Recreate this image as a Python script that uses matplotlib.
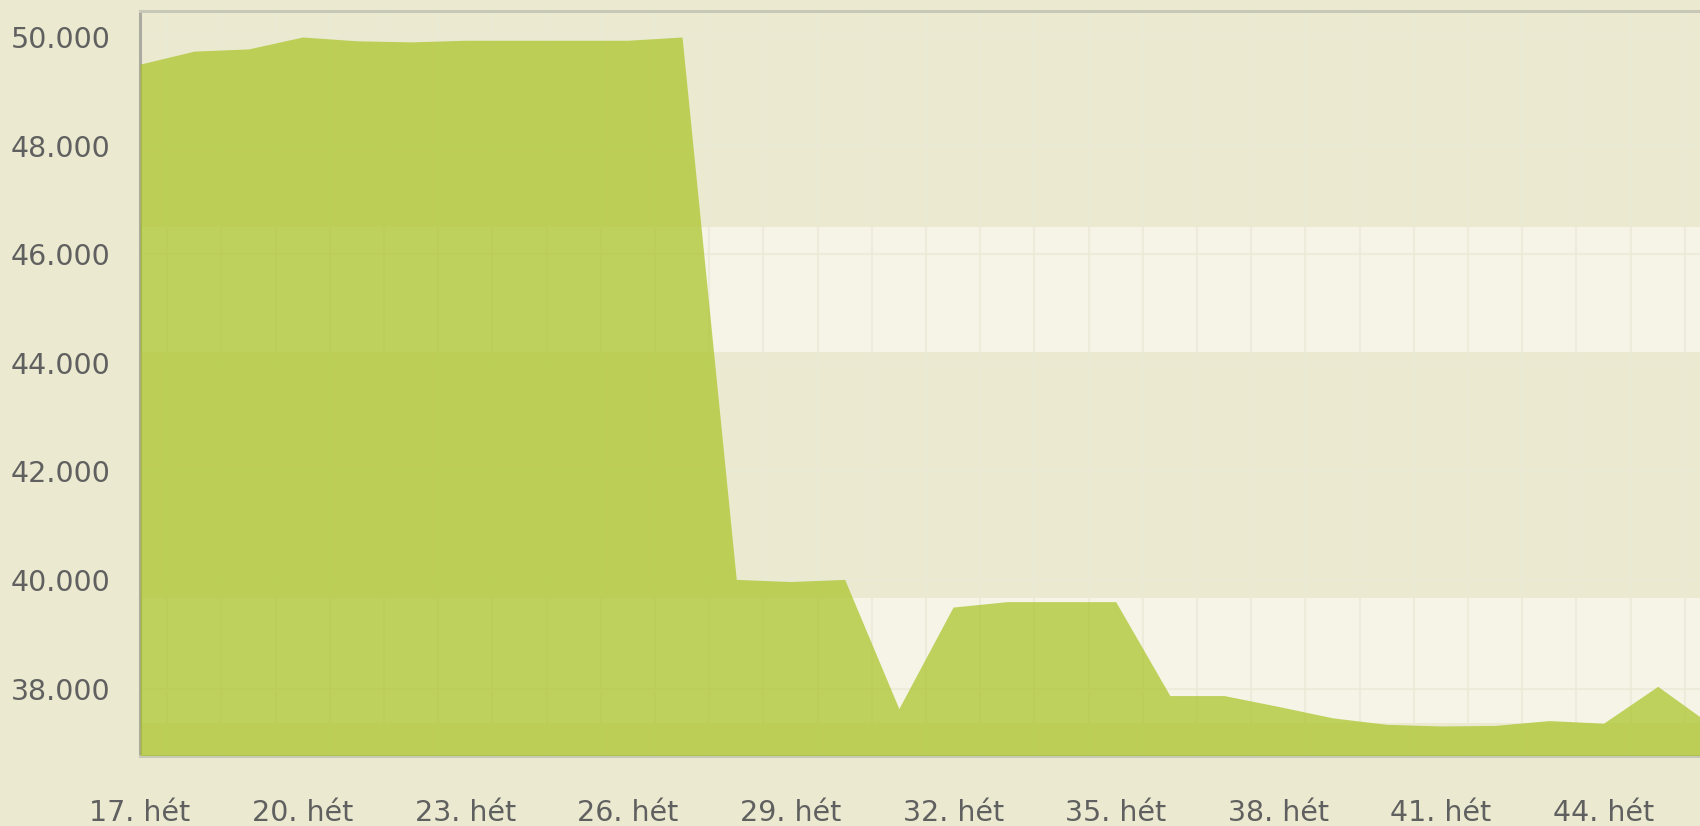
import matplotlib
matplotlib.use("Agg")
import matplotlib.pyplot as plt
from matplotlib.ticker import FuncFormatter

# data
weeks = list(range(17, 47))
values = [49500, 49740, 49780, 50000, 49930, 49910, 49940, 49940, 49940, 49940,
          50000, 40010, 39970, 40010, 37630, 39500, 39600, 39600, 39600, 37870,
          37870, 37670, 37460, 37340, 37310, 37320, 37410, 37360, 38040, 37320]
week_ticks = list(range(17, 45, 3))
y_ticks = [38000, 40000, 42000, 44000, 46000, 48000, 50000]
light_bands = [(44200, 46500), (37364, 39667)]

bg = "#EBEAD0"
band_color = "#F5F4E6"
grid_color = "#EAEAD6"
area_color = "#A3BF14"
text_color = "#606060"

fig = plt.figure(figsize=(17, 8.26), dpi=100)
fig.patch.set_facecolor(bg)
ax = fig.add_axes([140 / 1700, 1 - 755.5 / 826, 1 - 140 / 1700, 745 / 826])
ax.set_facecolor(bg)

ymin, ymax = 36766, 50488
ax.set_xlim(17, 45.78)
ax.set_ylim(ymin, ymax)

# plot bands
for lo, hi in light_bands:
    ax.axhspan(lo, hi, color=band_color, lw=0, zorder=0)

# grid: horizontal on ticks, vertical between weeks
for y in y_ticks:
    ax.axhline(y, color=grid_color, alpha=0.7, lw=1.5, zorder=0.5)
for w in weeks:
    ax.axvline(w + 0.5, color=grid_color, alpha=0.7, lw=1.5, zorder=0.5)

ax.fill_between(weeks, values, ymin, color=area_color, alpha=0.65, lw=0, zorder=3)

ax.set_xticks(week_ticks)
ax.xaxis.set_major_formatter(FuncFormatter(lambda v, p: f"{int(v)}. hét"))
ax.set_yticks(y_ticks)
ax.yaxis.set_major_formatter(FuncFormatter(lambda v, p: f"{int(v) // 1000}.{int(v) % 1000:03d}"))
ax.tick_params(axis="both", length=0, labelsize=20.5, labelcolor=text_color)
ax.tick_params(axis="y", pad=21)
ax.tick_params(axis="x", pad=31)

ax.spines["right"].set_visible(False)
ax.spines["top"].set_color("#C8C8B8")
ax.spines["bottom"].set_color("#C8C8B8")
ax.spines["left"].set_color("#AAAAA0")
for side in ["top", "bottom", "left"]:
    ax.spines[side].set_linewidth(2.2)
    ax.spines[side].set_zorder(2)

fig.savefig("out.png", dpi=100, facecolor=bg)
